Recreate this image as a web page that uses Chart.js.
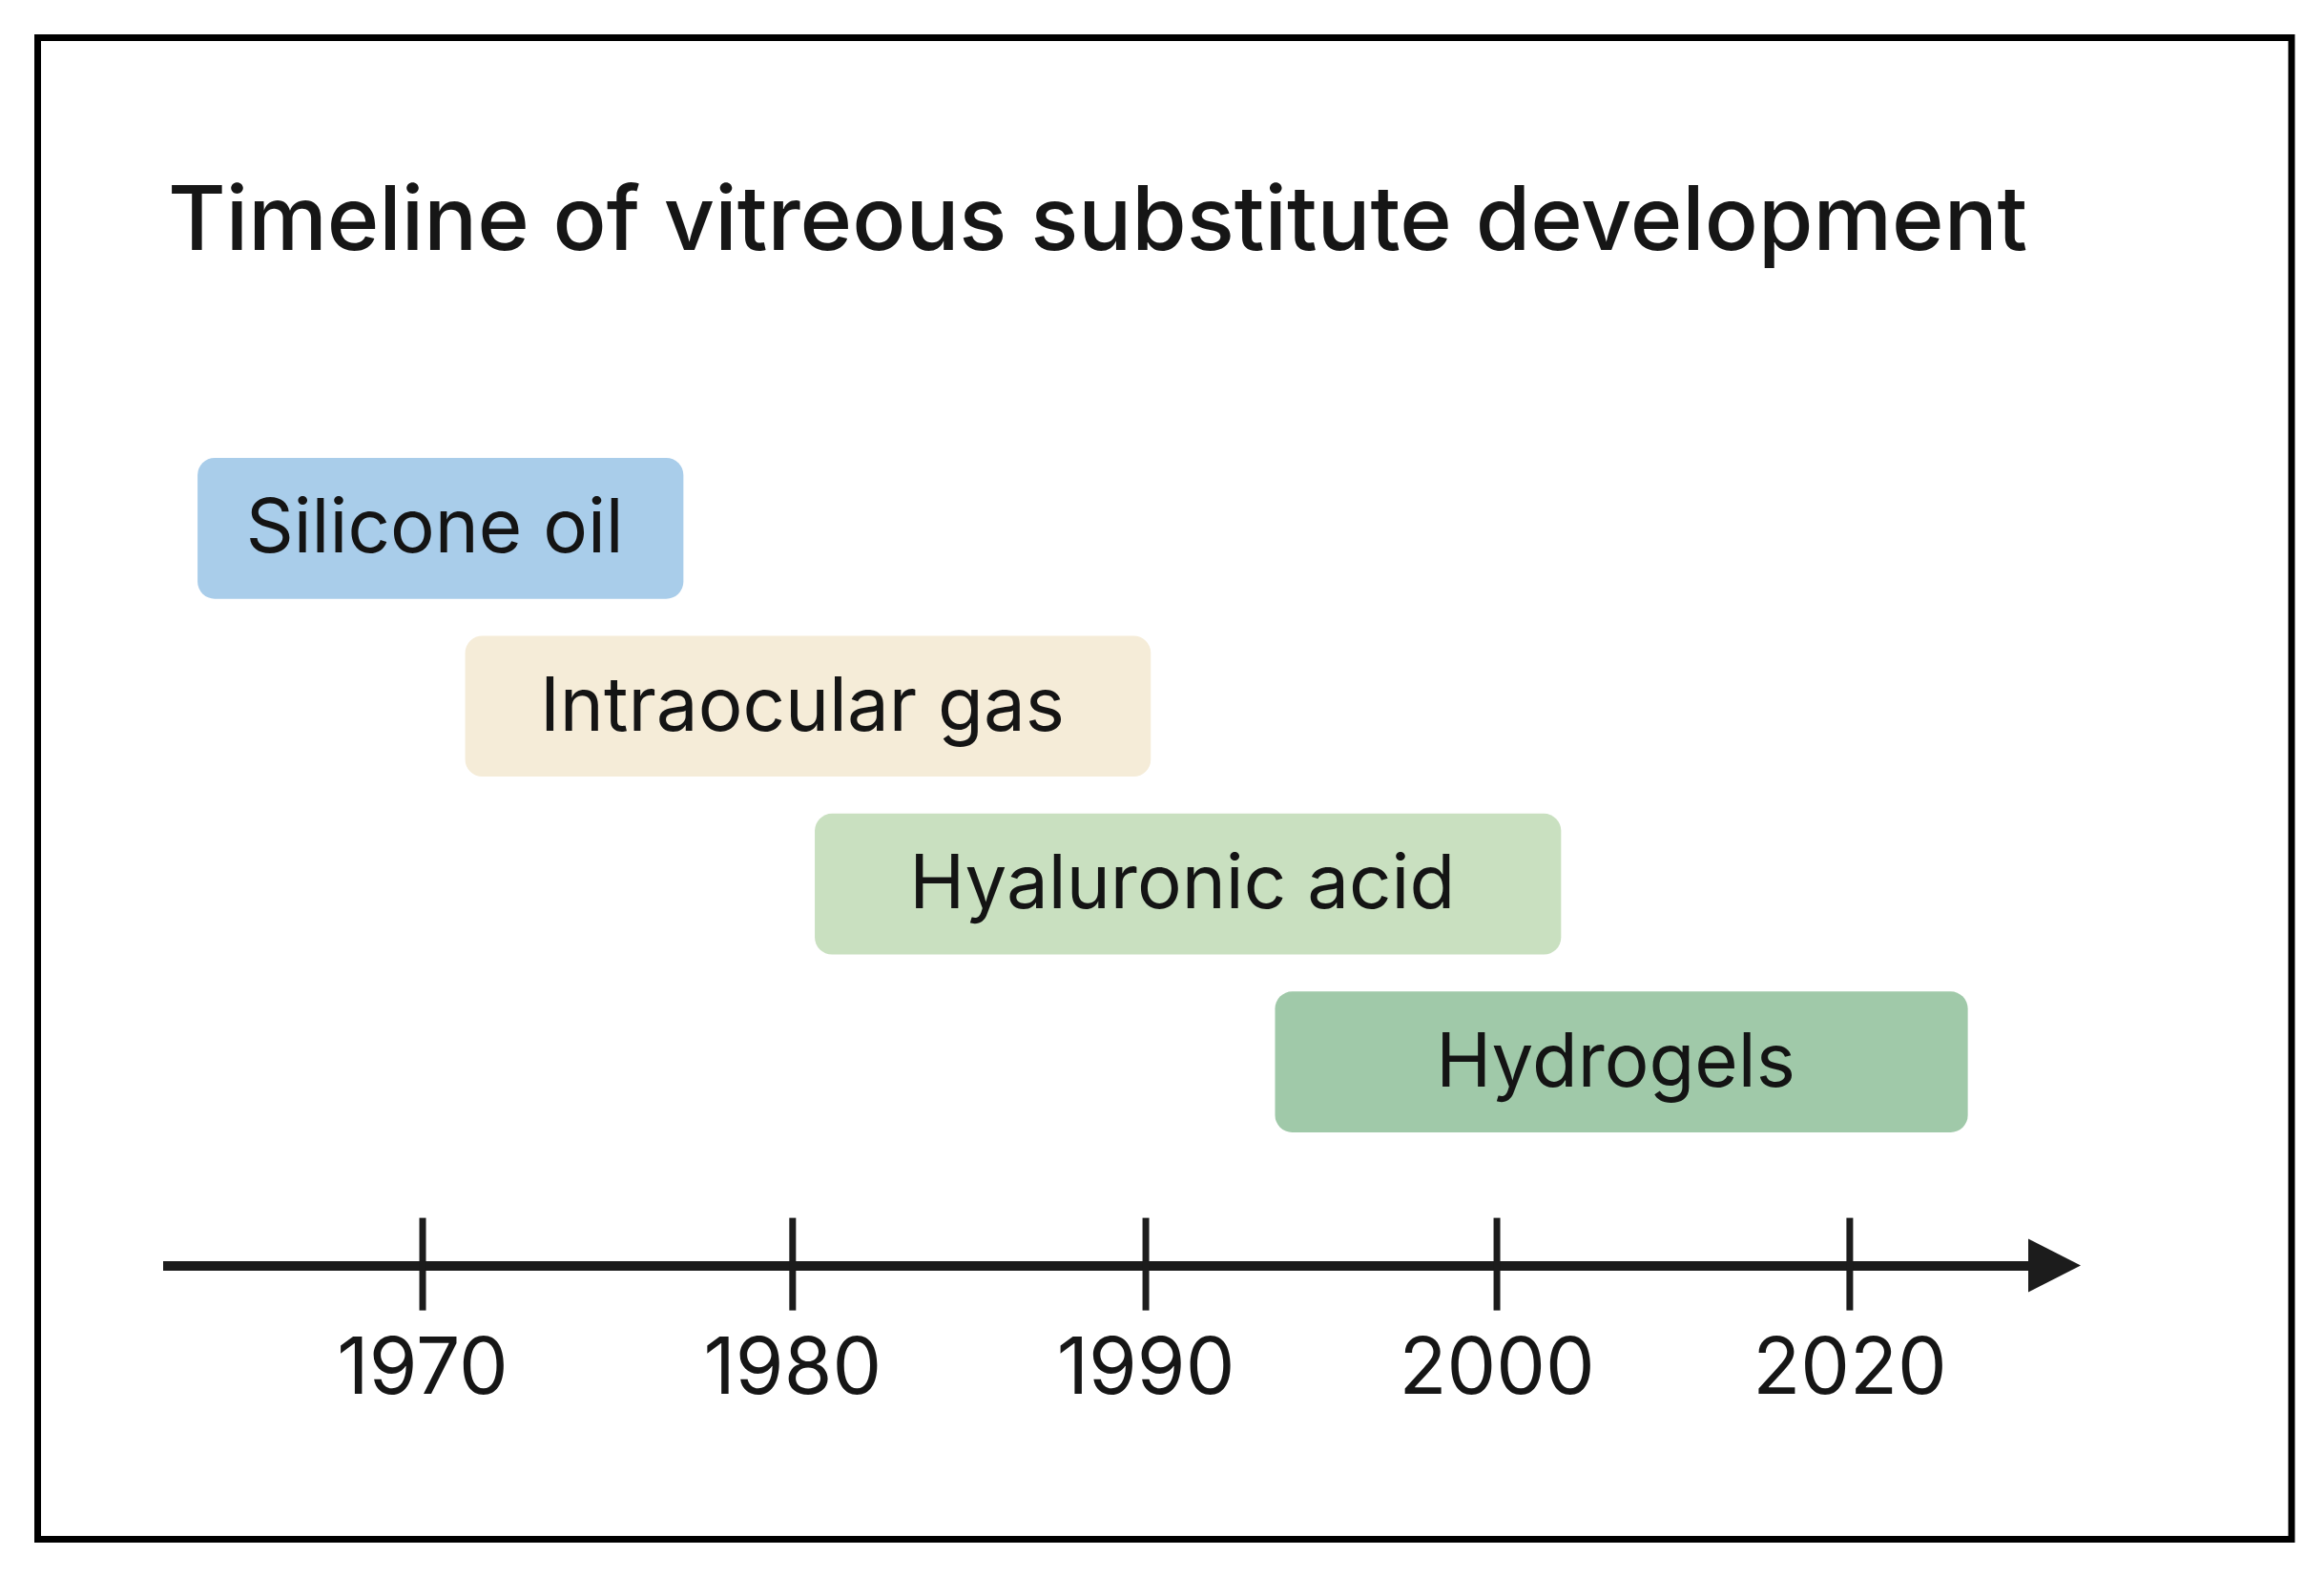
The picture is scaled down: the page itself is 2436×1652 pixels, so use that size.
<!DOCTYPE html>
<html>
<head>
<meta charset="utf-8">
<script src="https://cdn.jsdelivr.net/npm/chart.js@4.4.1/dist/chart.umd.min.js"></script>
<style>
html, body { margin: 0; padding: 0; background: #fff; }
</style>
</head>
<body>
<canvas id="timeline" width="2436" height="1652"></canvas>
<script>
// rows of the timeline, top to bottom
var materials = ["Silicone oil", "Intraocular gas", "Hyaluronic acid", "Hydrogels"];
var rowIndex = [0, 1, 2, 3];
// start / end of each band, in tick units (1970 = 0, each tick = 1)
var spanStart = [-0.63, 0.12, 1.10, 2.39];
var spanEnd = [0.73, 2.04, 3.19, 4.33];
var barColors = ["#a9cdea", "#f5ecd8", "#c9e0c0", "#a0c9a9"];

var tickLabels = ["1970", "1980", "1990", "2000", "2020"];
var tickPositions = [0, 1.037, 2.027, 3.011, 4];

var INK = "#1c1c1c";
var FONT = "Inter, 'Noto Sans', sans-serif";

var points = [];
for (var i = 0; i < materials.length; i++) {
	points.push({ x: [spanStart[i], spanEnd[i]], y: rowIndex[i] });
}

// white page and the black frame round it
var framePlugin = {
	id: 'frame',
	beforeDraw: function(chart) {
		var ctx = chart.ctx;
		ctx.save();
		ctx.fillStyle = '#fff';
		ctx.fillRect(0, 0, chart.width, chart.height);
		ctx.restore();
	},
	afterDraw: function(chart) {
		var ctx = chart.ctx;
		ctx.save();
		ctx.strokeStyle = '#000';
		ctx.lineWidth = 7;
		ctx.strokeRect(39.5, 39.5, 2362.5, 1574);
		ctx.restore();
	}
};

// tick crosses and arrow head on the time axis
var axisPlugin = {
	id: 'axisMarks',
	afterDraw: function(chart) {
		var scale = chart.scales.x;
		var ctx = chart.ctx;
		var y = scale.top;
		ctx.save();
		ctx.strokeStyle = INK;
		ctx.lineWidth = 7;
		scale.ticks.forEach(function(t) {
			var px = scale.getPixelForValue(t.value);
			ctx.beginPath();
			ctx.moveTo(px, y - 50);
			ctx.lineTo(px, y + 47);
			ctx.stroke();
		});
		var end = scale.right;
		ctx.fillStyle = INK;
		ctx.beginPath();
		ctx.moveTo(end - 4, y - 28);
		ctx.lineTo(end + 51, y);
		ctx.lineTo(end - 4, y + 28);
		ctx.closePath();
		ctx.fill();
		ctx.restore();
	}
};

// names written inside each band
var labelPlugin = {
	id: 'bandLabels',
	afterDatasetsDraw: function(chart) {
		var ctx = chart.ctx;
		var meta = chart.getDatasetMeta(0);
		ctx.save();
		ctx.fillStyle = '#141414';
		ctx.font = '400 78px ' + FONT;
		ctx.textAlign = 'center';
		ctx.textBaseline = 'middle';
		meta.data.forEach(function(bar, i) {
			var cx = (bar.x + bar.base) / 2 - 6;
			ctx.fillText(materials[i], cx, bar.y + 2);
		});
		ctx.restore();
	}
};

var ctx = document.getElementById('timeline').getContext('2d');
var chart = new Chart(ctx, {
	type: 'bar',
	data: {
		datasets: [{
			label: 'Vitreous substitutes',
			data: points,
			backgroundColor: barColors,
			borderRadius: 18,
			borderSkipped: false,
			barThickness: 147
		}]
	},
	options: {
		indexAxis: 'y',
		responsive: false,
		animation: false,
		devicePixelRatio: 1,
		layout: {
			padding: { left: 176, right: 306, top: 0, bottom: 105 }
		},
		plugins: {
			legend: { display: false },
			tooltip: { enabled: false },
			title: {
				display: true,
				text: 'Timeline of vitreous substitute development',
				align: 'start',
				color: '#161616',
				font: { family: FONT, size: 93, weight: '500', lineHeight: 1.2 },
				padding: { top: 178, bottom: 171 }
			}
		},
		scales: {
			x: {
				type: 'linear',
				position: 'bottom',
				min: -0.714,
				max: 4.511,
				afterBuildTicks: function(scale) {
					scale.ticks = tickPositions.map(function(v) { return { value: v }; });
				},
				grid: { display: false, drawTicks: false },
				border: { display: true, color: INK, width: 10 },
				ticks: {
					autoSkip: false,
					maxRotation: 0,
					padding: 61,
					color: '#161616',
					font: { family: FONT, size: 82, weight: '400' },
					callback: function(value, index) { return tickLabels[index]; }
				}
			},
			y: {
				type: 'linear',
				reverse: true,
				offset: false,
				min: -0.5,
				max: 4.145,
				display: false
			}
		}
	},
	plugins: [framePlugin, axisPlugin, labelPlugin]
});
</script>
</body>
</html>
